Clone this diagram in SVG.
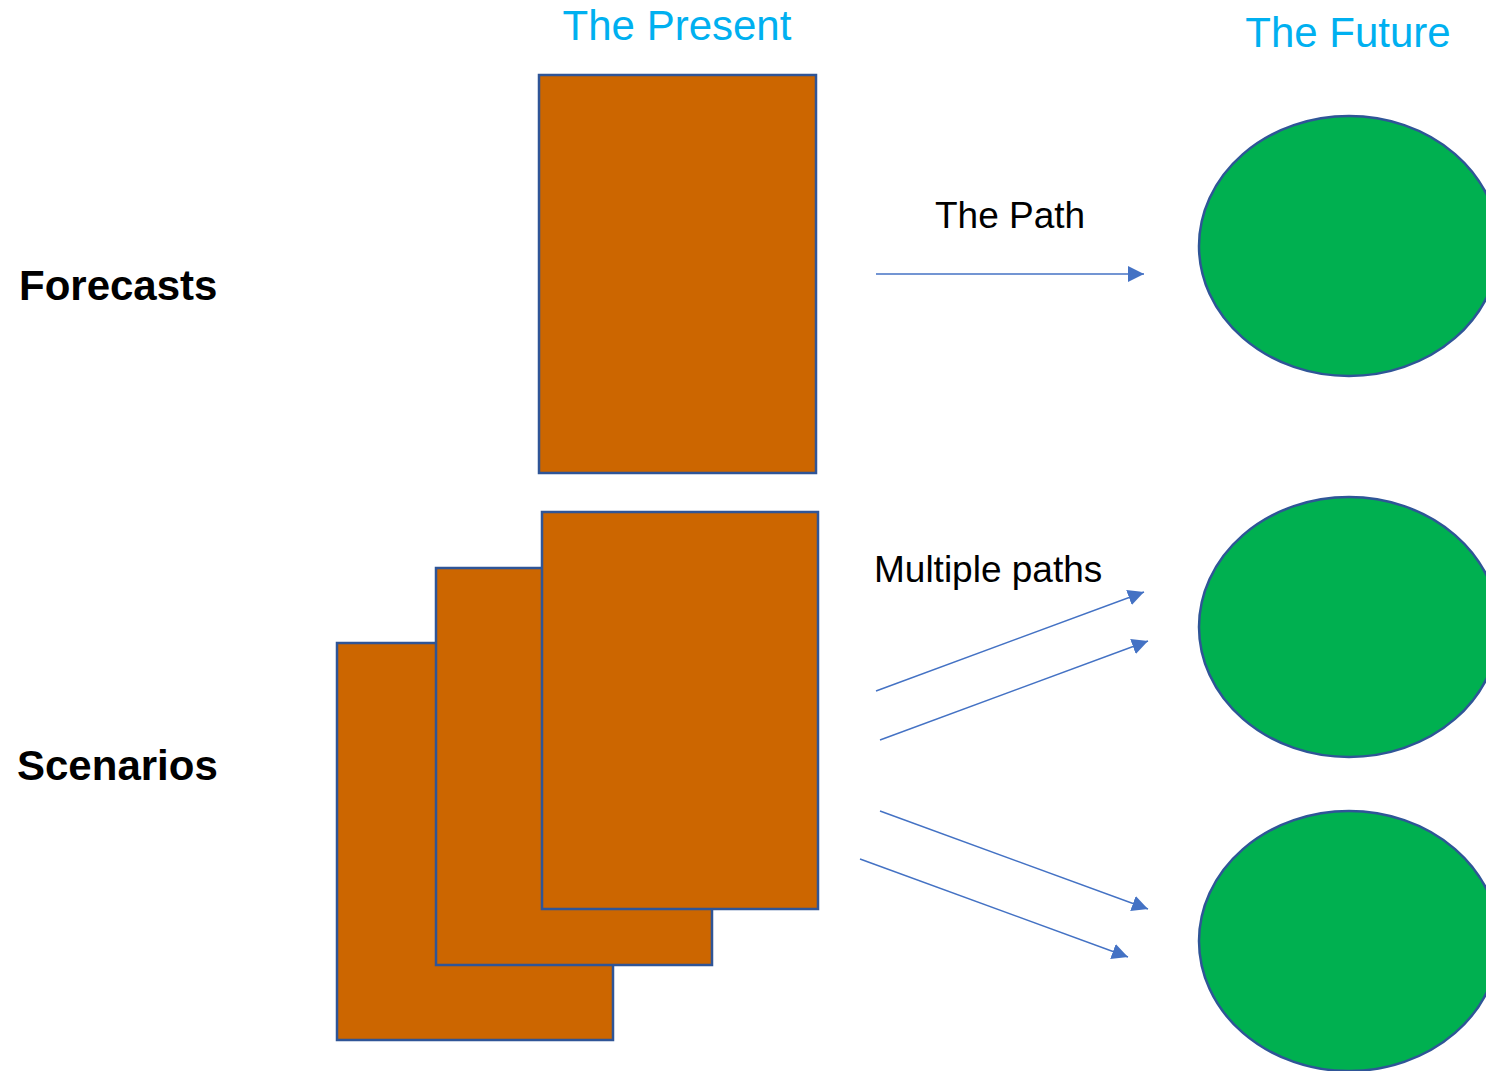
<svg xmlns="http://www.w3.org/2000/svg" width="1486" height="1071" viewBox="0 0 1486 1071">
<style>
.box{fill:#CC6600;stroke:#2F5597;stroke-width:2.5}
.oval{fill:#00B050;stroke:#2F5597;stroke-width:2.5}
.hdr{font-family:"Liberation Sans",Arial,sans-serif;font-size:42px;fill:#00B0F0}
.lbl{font-family:"Liberation Sans",Arial,sans-serif;font-size:42px;font-weight:bold;fill:#000}
.cap{font-family:"Liberation Sans",Arial,sans-serif;font-size:37px;fill:#000}
.conn{stroke:#4472C4;stroke-width:1.5;fill:none;marker-end:url(#ah)}
</style>
<defs>
<marker id="ah" markerWidth="16" markerHeight="16" refX="16" refY="8" orient="auto" markerUnits="userSpaceOnUse">
<path d="M0,0 L16,8 L0,16 Z" fill="#4472C4"/>
</marker>
</defs>
<rect width="1486" height="1071" fill="#fff"/>
<text class="hdr" x="677" y="40" text-anchor="middle">The Present</text>
<text class="hdr" x="1348" y="47" text-anchor="middle">The Future</text>
<text class="lbl" x="19" y="300">Forecasts</text>
<text class="lbl" x="17" y="780">Scenarios</text>
<text class="cap" x="935" y="228">The Path</text>
<text class="cap" x="874" y="582">Multiple paths</text>
<g id="present"><rect class="box" x="539" y="75" width="277" height="398"/></g>
<g id="scenario3"><rect class="box" x="337" y="643" width="276" height="397"/></g>
<g id="scenario2"><rect class="box" x="436" y="568" width="276" height="397"/></g>
<g id="scenario1"><rect class="box" x="542" y="512" width="276" height="397"/></g>
<g id="future1"><ellipse class="oval" cx="1349" cy="246" rx="150" ry="130"/></g>
<g id="future2"><ellipse class="oval" cx="1349" cy="627" rx="150" ry="130"/></g>
<g id="future3"><ellipse class="oval" cx="1349" cy="941" rx="150" ry="130"/></g>
<g id="connectors">
<line class="conn" x1="876" y1="274" x2="1144" y2="274"/>
<line class="conn" x1="876" y1="691" x2="1144" y2="592"/>
<line class="conn" x1="880" y1="740" x2="1148" y2="641"/>
<line class="conn" x1="880" y1="811" x2="1148" y2="909"/>
<line class="conn" x1="860" y1="859" x2="1128" y2="957"/>
</g>
</svg>
